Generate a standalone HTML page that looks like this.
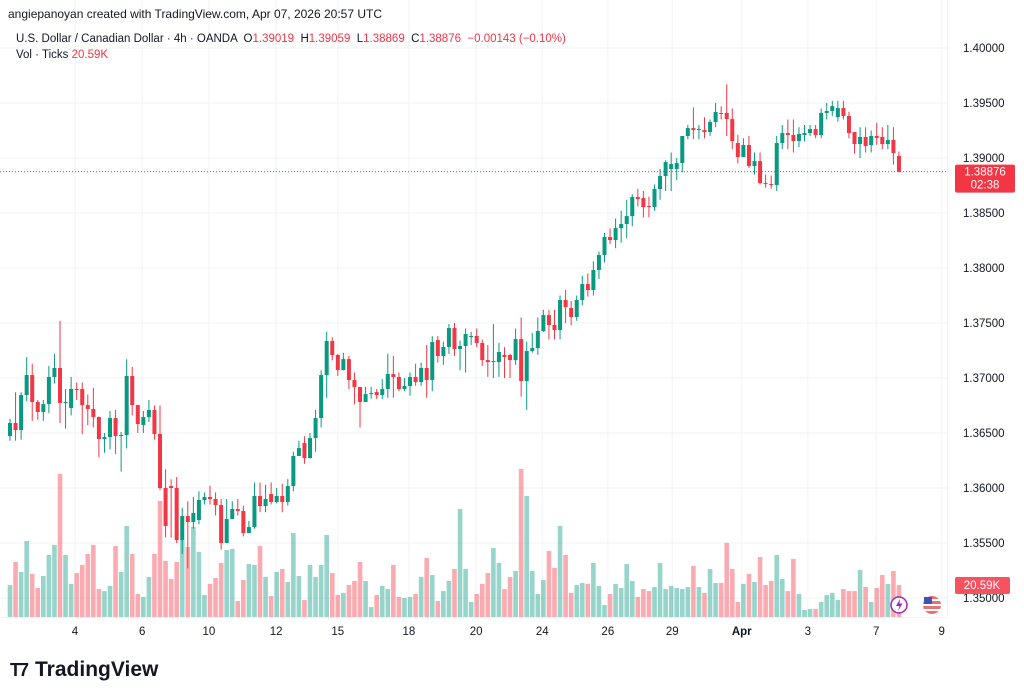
<!DOCTYPE html>
<html><head><meta charset="utf-8">
<style>
html,body{margin:0;padding:0;background:#fff;}
body{width:1024px;height:699px;overflow:hidden;position:relative;font-family:"Liberation Sans",sans-serif;}
svg{position:absolute;left:0;top:0;}
</style></head>
<body>
<svg id="chart" width="1024" height="699"></svg>
<script>
const opens=[1.36473,1.36591,1.36527,1.36845,1.37027,1.36782,1.36691,1.36763,1.37009,1.37091,1.36772,1.36727,1.36900,1.36900,1.36754,1.36718,1.36645,1.36445,1.36463,1.36636,1.36473,1.36482,1.37018,1.36754,1.36573,1.36645,1.36709,1.36491,1.36000,1.36018,1.36000,1.35527,1.35745,1.35691,1.35709,1.35891,1.35918,1.35900,1.35845,1.35500,1.35718,1.35809,1.35791,1.35591,1.35645,1.35927,1.35836,1.35945,1.35873,1.35927,1.35873,1.36018,1.36291,1.36409,1.36272,1.36454,1.36636,1.37027,1.37336,1.37209,1.37072,1.37172,1.36982,1.36918,1.36782,1.36854,1.36872,1.36845,1.36900,1.37036,1.37009,1.36900,1.36927,1.37009,1.36963,1.37091,1.36982,1.37345,1.37200,1.37282,1.37454,1.37263,1.37291,1.37372,1.37382,1.37318,1.37163,1.37145,1.37145,1.37209,1.37209,1.37163,1.37354,1.36972,1.37245,1.37272,1.37427,1.37572,1.37482,1.37436,1.37709,1.37636,1.37554,1.37709,1.37854,1.37800,1.37982,1.38118,1.38282,1.38254,1.38363,1.38400,1.38472,1.38645,1.38636,1.38563,1.38554,1.38718,1.38836,1.38900,1.38900,1.38954,1.39200,1.39272,1.39254,1.39254,1.39236,1.39327,1.39409,1.39409,1.39354,1.39136,1.39009,1.39118,1.38927,1.38972,1.38772,1.38763,1.38754,1.39136,1.39227,1.39209,1.39154,1.39209,1.39227,1.39263,1.39209,1.39409,1.39427,1.39372,1.39454,1.39382,1.39236,1.39127,1.39191,1.39118,1.39200,1.39191,1.39127,1.39164,1.39019];
const closes=[1.36591,1.36527,1.36845,1.37027,1.36782,1.36691,1.36763,1.37009,1.37091,1.36772,1.36782,1.36900,1.36891,1.36754,1.36718,1.36645,1.36445,1.36463,1.36636,1.36473,1.36482,1.37018,1.36754,1.36582,1.36645,1.36709,1.36491,1.36000,1.35655,1.36000,1.35527,1.35745,1.35691,1.35773,1.35891,1.35918,1.35900,1.35845,1.35500,1.35718,1.35809,1.35791,1.35591,1.35645,1.35927,1.35836,1.35900,1.35873,1.35927,1.35873,1.36018,1.36291,1.36363,1.36272,1.36454,1.36636,1.37027,1.37336,1.37209,1.37072,1.37172,1.36982,1.36918,1.36782,1.36854,1.36863,1.36845,1.36900,1.37036,1.37009,1.36900,1.36927,1.37009,1.36963,1.37091,1.36982,1.37327,1.37200,1.37282,1.37454,1.37263,1.37291,1.37400,1.37382,1.37318,1.37163,1.37145,1.37154,1.37236,1.37191,1.37163,1.37354,1.36972,1.37245,1.37272,1.37427,1.37572,1.37482,1.37436,1.37709,1.37645,1.37554,1.37709,1.37854,1.37800,1.37982,1.38118,1.38282,1.38254,1.38363,1.38400,1.38472,1.38645,1.38627,1.38554,1.38554,1.38718,1.38836,1.38963,1.38945,1.38954,1.39200,1.39272,1.39254,1.39263,1.39236,1.39327,1.39418,1.39400,1.39354,1.39154,1.39009,1.39118,1.38927,1.38972,1.38772,1.38763,1.38754,1.39136,1.39227,1.39209,1.39154,1.39218,1.39227,1.39263,1.39209,1.39409,1.39427,1.39472,1.39454,1.39382,1.39227,1.39127,1.39191,1.39109,1.39200,1.39182,1.39127,1.39164,1.39045,1.38876];
const highs=[1.3663,1.3687,1.3687,1.3719,1.3713,1.3680,1.3680,1.3711,1.3722,1.3752,1.3690,1.3701,1.3696,1.3696,1.3685,1.3691,1.3665,1.3650,1.3670,1.3671,1.3651,1.3717,1.3710,1.3675,1.3670,1.3680,1.3675,1.3675,1.3617,1.3608,1.3610,1.3582,1.3588,1.3592,1.3597,1.3596,1.3602,1.3596,1.3590,1.3590,1.3588,1.3590,1.3584,1.3570,1.3605,1.3605,1.3603,1.3605,1.3600,1.3604,1.3608,1.3633,1.3643,1.3647,1.3650,1.3671,1.3707,1.3742,1.3737,1.3722,1.3723,1.3720,1.3705,1.3692,1.3692,1.3692,1.3690,1.3699,1.3722,1.3720,1.3705,1.3700,1.3705,1.3713,1.3714,1.3730,1.3738,1.3738,1.3733,1.3749,1.3750,1.3734,1.3745,1.3742,1.3745,1.3735,1.3730,1.3749,1.3732,1.3728,1.3722,1.3745,1.3755,1.3733,1.3741,1.3755,1.3762,1.3762,1.3762,1.3775,1.3780,1.3770,1.3775,1.3793,1.3795,1.3806,1.3815,1.3832,1.3836,1.3845,1.3852,1.3862,1.3867,1.3872,1.3870,1.3865,1.3876,1.3890,1.3898,1.3905,1.3900,1.3920,1.3930,1.3946,1.3930,1.3937,1.3935,1.3950,1.3947,1.3967,1.3945,1.3921,1.3918,1.3920,1.3905,1.3905,1.3885,1.3884,1.3920,1.3930,1.3935,1.3935,1.3928,1.3930,1.3930,1.3930,1.3945,1.3950,1.3952,1.3952,1.3952,1.3942,1.3920,1.3928,1.3928,1.3925,1.3932,1.3928,1.3930,1.3928,1.39059];
const lows=[1.3643,1.3643,1.3644,1.3679,1.3661,1.3662,1.3661,1.3668,1.3695,1.3659,1.3654,1.3666,1.3680,1.3649,1.3657,1.3655,1.3628,1.3632,1.3635,1.3631,1.3615,1.3636,1.3666,1.3650,1.3650,1.3660,1.3644,1.3598,1.3555,1.3555,1.3550,1.3540,1.3527,1.3563,1.3567,1.3585,1.3585,1.3575,1.3544,1.3555,1.3575,1.3575,1.3556,1.3559,1.3563,1.3578,1.3578,1.3585,1.3586,1.3578,1.3584,1.3597,1.3630,1.3622,1.3627,1.3633,1.3655,1.3682,1.3716,1.3702,1.3707,1.3690,1.3676,1.3655,1.3679,1.3681,1.3681,1.3681,1.3682,1.3682,1.3688,1.3688,1.3684,1.3693,1.3693,1.3682,1.3688,1.3714,1.3712,1.3722,1.3720,1.3707,1.3705,1.3730,1.3728,1.3711,1.3701,1.3700,1.3701,1.3700,1.3700,1.3712,1.3683,1.3671,1.3723,1.3721,1.3742,1.3735,1.3735,1.3735,1.3750,1.3748,1.3752,1.3766,1.3774,1.3775,1.3790,1.3805,1.3822,1.3818,1.3823,1.3827,1.3838,1.3856,1.3846,1.3846,1.3852,1.3862,1.3870,1.3870,1.3880,1.3887,1.3917,1.3917,1.3917,1.3918,1.3920,1.3928,1.3935,1.3920,1.3908,1.3895,1.3905,1.3891,1.3885,1.3876,1.3873,1.3872,1.3870,1.3908,1.3908,1.3905,1.3910,1.3915,1.3920,1.3918,1.3918,1.3935,1.3938,1.3933,1.3935,1.3918,1.3904,1.3900,1.3905,1.3905,1.3912,1.3908,1.3908,1.3894,1.38869];
const volumes=[20.6,35.4,29.0,48.9,27.7,18.7,26.4,39.9,46.4,92.1,39.9,21.3,28.3,33.5,40.6,46.4,18.0,16.7,20.0,45.7,29.0,58.6,40.6,14.8,12.9,25.8,40.6,74.7,36.1,24.5,35.4,49.6,45.1,58.0,41.9,14.2,21.3,25.1,34.8,43.1,43.8,10.3,23.8,34.1,33.5,45.7,25.8,13.5,29.0,30.9,22.5,54.1,26.4,10.9,33.5,25.8,33.5,52.8,28.3,14.2,15.5,20.6,23.2,35.4,23.2,6.4,14.2,20.0,18.0,33.5,12.9,12.2,12.9,14.8,25.8,38.0,27.0,10.3,16.7,23.2,30.9,69.6,30.9,9.7,14.8,21.3,28.3,44.4,34.8,18.0,25.8,29.6,95.3,77.9,29.6,14.8,23.8,42.5,31.6,58.6,39.9,15.5,20.6,21.9,21.3,34.8,20.0,7.7,14.8,21.3,18.7,34.1,23.2,12.9,18.0,16.7,19.3,34.8,18.0,20.0,18.7,18.0,19.3,32.8,19.3,15.5,30.9,21.9,21.9,47.7,30.9,9.7,21.3,27.7,22.5,38.6,20.6,23.2,39.9,24.5,16.7,37.4,14.8,4.5,5.2,5.2,9.7,14.2,15.5,10.9,18.0,16.7,16.7,30.3,19.3,9.7,18.7,27.0,21.3,29.6,20.59];
const priceTicks=[1.40,1.395,1.39,1.385,1.38,1.375,1.37,1.365,1.36,1.355,1.35];
const dateLabels=["4","6","10","12","15","18","20","24","26","29","Apr","3","7","9"];
const dateIdx=[11.7,23.8,35.8,47.9,59,71.8,83.9,95.8,107.6,119.2,131.7,143.6,155.9,167.7];

const NS="http://www.w3.org/2000/svg";
const svg=document.getElementById('chart');
function el(tag,attrs,parent){const e=document.createElementNS(NS,tag);for(const k in attrs)e.setAttribute(k,attrs[k]);(parent||svg).appendChild(e);return e;}
const yP=p=>48+(1.40-p)/0.005*55;
const xI=i=>10+i*5.556;
const vScale=1.554, vBase=617;
const UP="#089981", DN="#f23645", UPV="rgba(8,153,129,0.42)", DNV="rgba(242,54,69,0.42)";

const grid=el('g',{});


priceTicks.forEach(p=>{el('line',{x1:0,x2:947,y1:yP(p),y2:yP(p),stroke:"#f2f3f5","stroke-width":1},grid);});
dateIdx.forEach(d=>{el('line',{x1:xI(d),x2:xI(d),y1:0,y2:617,stroke:"#f2f3f5","stroke-width":1},grid);});
el('line',{x1:947.5,x2:947.5,y1:0,y2:617,stroke:"#f0f3fa"});
el('line',{x1:0,x2:947,y1:617.5,y2:617.5,stroke:"#f0f3fa"});

const vg=el('g',{});


volumes.forEach((v,i)=>{
  const h=v*vScale;const up=closes[i]>=opens[i];
  const r=el('rect',{x:xI(i)-2.3,y:vBase-h,width:4.6,height:h,fill:up?UPV:DNV},vg);
  
  
});

const cg=el('g',{});


opens.forEach((o,i)=>{
  const c=closes[i],up=c>=o,col=up?UP:DN,x=xI(i);
  const g=el('g',{},cg);
  
  
  el('line',{x1:x,x2:x,y1:yP(highs[i]),y2:yP(lows[i]),stroke:col,"stroke-width":1},g);
  const t=Math.min(yP(o),yP(c)),h=Math.max(1,Math.abs(yP(o)-yP(c)));
  el('rect',{x:x-2,y:t,width:4,height:h,fill:col},g);
});

const last=closes[closes.length-1];
const pl=el('line',{x1:0,x2:947,y1:yP(last),y2:yP(last),stroke:DN,"stroke-width":1,"stroke-dasharray":"1,2"});



priceTicks.forEach(p=>{
  const t=el('text',{x:963,y:yP(p)+4,"font-size":11.5,fill:"#131722"});
  t.textContent=p.toFixed(5);
  
  
});
dateLabels.forEach((d,k)=>{
  const t=el('text',{x:xI(dateIdx[k]),y:635,"font-size":11.5,fill:"#131722","text-anchor":"middle","font-weight":d==="Apr"?"bold":"normal"});
  t.textContent=d;
  
  
});

const pb=el('g',{});


el('rect',{x:955,y:yP(last)-7,width:60,height:28,rx:2,fill:DN},pb);
let t1=el('text',{x:985,y:yP(last)+4,"font-size":11.5,fill:"#fff","text-anchor":"middle"},pb);t1.textContent=last.toFixed(5);
let t2=el('text',{x:985,y:yP(last)+17,"font-size":11.5,fill:"#fff","text-anchor":"middle"},pb);t2.textContent="02:38";
const lv=volumes[volumes.length-1];
const vb=el('g',{});


el('rect',{x:955,y:vBase-lv*vScale-8,width:55,height:17,rx:2,fill:"#f7525f"},vb);
let t3=el('text',{x:982,y:vBase-lv*vScale+4,"font-size":11.5,fill:"#fff","text-anchor":"middle"},vb);t3.textContent=lv.toFixed(2)+"K";

const ic1=el('g',{});


el('circle',{cx:899,cy:605,r:8,fill:"#fff",stroke:"#9c27b0","stroke-width":1.5},ic1);
el('path',{d:"M900 599 L896 606 L899.5 606 L898 611 L902.5 603.5 L899.5 603.5 Z",fill:"#9c27b0"},ic1);
const ic2=el('g',{});


el('circle',{cx:932,cy:605,r:9,fill:"#e57373"},ic2);
el('rect',{x:923,y:599,width:18,height:2,fill:"#fff"},ic2);
el('rect',{x:923,y:604,width:18,height:2,fill:"#fff"},ic2);
el('rect',{x:923,y:609,width:18,height:2,fill:"#fff"},ic2);
el('rect',{x:924,y:597,width:8,height:7,fill:"#3f51b5"},ic2);
</script>

<div style="position:absolute;left:8px;top:7px;font-size:12px;color:#131722;">angiepanoyan created with TradingView.com, Apr 07, 2026 20:57 UTC</div>
<div style="position:absolute;left:16px;top:33px;font-size:11.5px;color:#131722;white-space:nowrap;">U.S. Dollar / Canadian Dollar · 4h · OANDA &nbsp;<span>O</span><span style="color:#f23645">1.39019</span> &nbsp;H<span style="color:#f23645">1.39059</span> &nbsp;L<span style="color:#f23645">1.38869</span> &nbsp;C<span style="color:#f23645">1.38876</span> &nbsp;<span style="color:#f23645">−0.00143 (−0.10%)</span></div>
<div style="position:absolute;left:16px;top:49px;font-size:11.5px;color:#131722;">Vol · Ticks <span style="color:#f23645">20.59K</span></div>
<div style="position:absolute;left:10px;top:658px;font-size:21px;font-weight:bold;color:#131722;display:flex;align-items:center;">
<span style="display:inline-block;font-size:18px;letter-spacing:-2px;margin-right:8px;">T7</span>TradingView</div>
</body></html>
